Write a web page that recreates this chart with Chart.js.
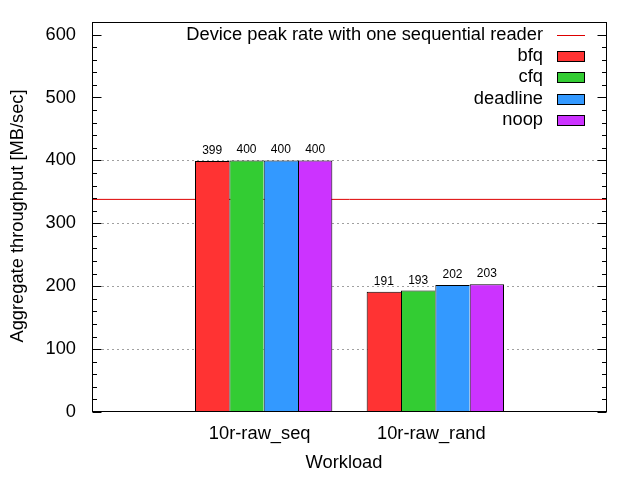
<!DOCTYPE html>
<html><head><meta charset="utf-8">
<script src="https://cdn.jsdelivr.net/npm/chart.js@4/dist/chart.umd.min.js"></script>
<style>html,body{margin:0;padding:0;background:#fff}</style>
</head><body>
<canvas id="c" width="640" height="480"></canvas>
<script>
const categories = ['10r-raw_seq', '10r-raw_rand'];
const bfq = [399, 191];
const cfq = [400, 193];
const deadline = [400, 202];
const noop = [400, 203];
const peakRate = 338;
const yTicks = [0, 100, 200, 300, 400, 500, 600];
const gridTicks = [100, 200, 300, 400];
const seriesNames = ['bfq', 'cfq', 'deadline', 'noop'];
const seriesValues = [bfq, cfq, deadline, noop];
const seriesColors = ['#ff3333', '#33cc33', '#3399ff', '#cc33ff'];
const peakLabel = 'Device peak rate with one sequential reader';
const peakColor = '#dd0000';
const xTitle = 'Workload';
const yTitle = 'Aggregate throughput [MB/sec]';
const FONT = '"Liberation Sans", Arial, sans-serif';

const datasets = seriesNames.map((name, s) => ({
  type: 'bar',
  label: name,
  data: categories.map((c, i) => ({ x: i, y: seriesValues[s][i] })),
  backgroundColor: seriesColors[s],
  borderColor: '#000',
  borderWidth: { top: 1, left: 1, right: s === seriesNames.length - 1 ? 1 : 0, bottom: 0 },
  borderSkipped: false,
  categoryPercentage: 0.8,
  barPercentage: 1.0,
  order: 0
}));
datasets.unshift({
  type: 'line',
  label: peakLabel,
  data: [{ x: -1, y: peakRate }, { x: categories.length, y: peakRate }],
  borderColor: peakColor,
  borderWidth: 1,
  pointRadius: 0,
  fill: false,
  order: 10
});

const furniture = {
  id: 'furniture',
  afterDatasetsDraw(chart) {
    const ctx = chart.ctx;
    const a = chart.chartArea;
    const ys = chart.scales.y;
    ctx.save();
    // value labels
    ctx.fillStyle = '#000';
    ctx.font = '12px ' + FONT;
    ctx.textAlign = 'center';
    ctx.textBaseline = 'alphabetic';
    chart.data.datasets.forEach((ds, di) => {
      if (ds.type !== 'bar') return;
      chart.getDatasetMeta(di).data.forEach((el, i) => {
        ctx.fillText(String(ds.data[i].y), el.x, el.y - 7);
      });
    });
    // frame
    ctx.strokeStyle = '#000';
    ctx.lineWidth = 1;
    const L = Math.round(a.left) + 0.5, R = Math.round(a.right) - 0.5;
    const T = Math.round(a.top) + 0.5, B = Math.round(a.bottom) - 0.5;
    ctx.strokeRect(L, T, R - L, B - T);
    // ticks (inward), major and minor on left and right
    ctx.beginPath();
    for (let v = 0; v <= ys.max; v += 20) {
      const y = Math.round(ys.getPixelForValue(v)) + 0.5;
      const len = yTicks.includes(v) ? 9 : 4.5;
      ctx.moveTo(L, y); ctx.lineTo(L + len, y);
      ctx.moveTo(R, y); ctx.lineTo(R - len, y);
    }
    ctx.stroke();
    // legend
    ctx.font = '18.3px ' + FONT;
    ctx.textAlign = 'right';
    ctx.textBaseline = 'middle';
    const textRight = 543, sx = 557, sw = 28, y0 = 35, dy = 21.2;
    ctx.fillStyle = '#000';
    ctx.fillText(peakLabel, textRight, y0);
    ctx.beginPath();
    ctx.strokeStyle = peakColor;
    ctx.lineWidth = 1;
    ctx.moveTo(sx, Math.round(y0) + 0.5); ctx.lineTo(sx + sw, Math.round(y0) + 0.5);
    ctx.stroke();
    seriesNames.forEach((n, i) => {
      const y = y0 + dy * (i + 1);
      ctx.fillStyle = '#000';
      ctx.fillText(n, textRight, y);
      const top = Math.round(y - 5) + 0.5;
      ctx.fillStyle = seriesColors[i];
      ctx.fillRect(sx + 0.5, top, sw - 1, 10);
      ctx.strokeStyle = '#000';
      ctx.strokeRect(sx + 0.5, top, sw - 1, 10);
    });
    // axis titles
    ctx.fillStyle = '#000';
    ctx.textAlign = 'center';
    ctx.fillText(xTitle, 344, 463);
    ctx.translate(18, 216);
    ctx.rotate(-Math.PI / 2);
    ctx.fillText(yTitle, 0, 0);
    ctx.restore();
  }
};

new Chart(document.getElementById('c'), {
  data: { datasets },
  options: {
    responsive: false,
    animation: false,
    devicePixelRatio: 1,
    layout: { padding: { top: 22, right: 33, left: 0, bottom: 0 } },
    plugins: { legend: { display: false }, tooltip: { enabled: false } },
    scales: {
      x: {
        type: 'linear',
        offset: false,
        min: -1,
        max: categories.length,
        grid: { display: false, drawTicks: false, offset: false },
        border: { display: false },
        ticks: {
          stepSize: 1,
          padding: 11,
          labelOffset: -4,
          maxRotation: 0,
          autoSkip: false,
          color: '#000',
          font: { family: FONT, size: 18.3 },
          callback: (v) => (Number.isInteger(v) && v >= 0 && v < categories.length) ? categories[v] : ''
        },
        afterFit: (s) => { s.height = 68; s.paddingLeft = 0; s.paddingRight = 0; }
      },
      y: {
        type: 'linear',
        min: 0,
        max: 620,
        grid: {
          drawTicks: false,
          color: (ctx) => (ctx.tick && gridTicks.includes(ctx.tick.value)) ? '#a0a0a0' : 'rgba(0,0,0,0)',
          lineWidth: 1
        },
        border: { display: false, dash: [2, 3] },
        ticks: {
          padding: 16,
          color: '#000',
          font: { family: FONT, size: 18.3 },
          callback: (v) => yTicks.includes(v) ? String(v) : ''
        },
        afterBuildTicks: (s) => { s.ticks = yTicks.map(v => ({ value: v })); },
        afterFit: (s) => { s.width = 92; s.paddingTop = 0; s.paddingBottom = 0; }
      }
    }
  },
  plugins: [furniture]
});
</script>
</body></html>
